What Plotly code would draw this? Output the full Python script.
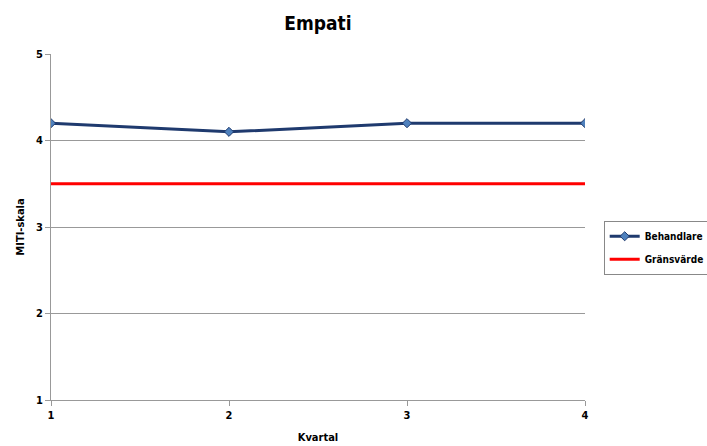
import plotly.graph_objects as go

kvartal = [1, 2, 3, 4]
behandlare = [4.2, 4.1, 4.2, 4.2]
gransvarde = [3.5, 3.5, 3.5, 3.5]
x_ticks = [1, 2, 3, 4]
y_ticks = [1, 2, 3, 4, 5]

FONT = "DejaVu Sans Condensed, Liberation Sans Narrow, Roboto, Arial"

fig = go.Figure()
fig.add_trace(go.Scatter(
    x=kvartal, y=behandlare, name="<b>Behandlare</b>", mode="lines+markers",
    legendgroup="a",
    line=dict(color="#1F3A6E", width=3),
    marker=dict(symbol="diamond", size=7, color="#4F81BD",
                line=dict(color="#1F3A6E", width=1)),
))
fig.add_trace(go.Scatter(
    x=kvartal, y=gransvarde, name="<b>Gränsvärde</b>", mode="lines",
    legendgroup="b",
    line=dict(color="#FF0000", width=3),
))

fig.update_layout(
    width=707, height=446,
    margin=dict(l=51, r=122, t=54, b=46, autoexpand=False),
    paper_bgcolor="white", plot_bgcolor="white",
    font=dict(family=FONT, color="black", size=11),
    title=dict(text="<b>Empati</b>", x=318 / 707, xanchor="center",
               y=1 - 23 / 446, yanchor="middle", font=dict(size=19, family=FONT)),
    showlegend=True,
    legend=dict(x=1.035, y=0.44, xanchor="left", yanchor="middle",
                bordercolor="#888888", borderwidth=1, bgcolor="white",
                font=dict(size=10, family=FONT), tracegroupgap=4, itemwidth=30),
    xaxis=dict(range=[1, 4], tickvals=x_ticks, ticktext=[f"<b>{v}</b>" for v in x_ticks],
               showgrid=False, showline=True, linecolor="#999999", linewidth=1,
               ticks="outside", ticklen=5, tickcolor="#999999", automargin=False,
               title=dict(text="<b>Kvartal</b>", standoff=12, font=dict(size=11)),
               zeroline=False),
    yaxis=dict(range=[1, 5], tickvals=y_ticks, ticktext=[f"<b>{v}</b>" for v in y_ticks],
               showgrid=True, gridcolor="#999999", gridwidth=1,
               showline=True, linecolor="#999999", linewidth=1,
               ticks="outside", ticklen=5, tickcolor="#999999", automargin=False,
               title=dict(text="<b>MITI-skala</b>", standoff=9, font=dict(size=11)),
               zeroline=False),
)

fig.write_html(
    "out.html",
    config={"displayModeBar": False},
    post_script="document.body.style.margin='0';document.body.style.overflow='hidden';",
)
